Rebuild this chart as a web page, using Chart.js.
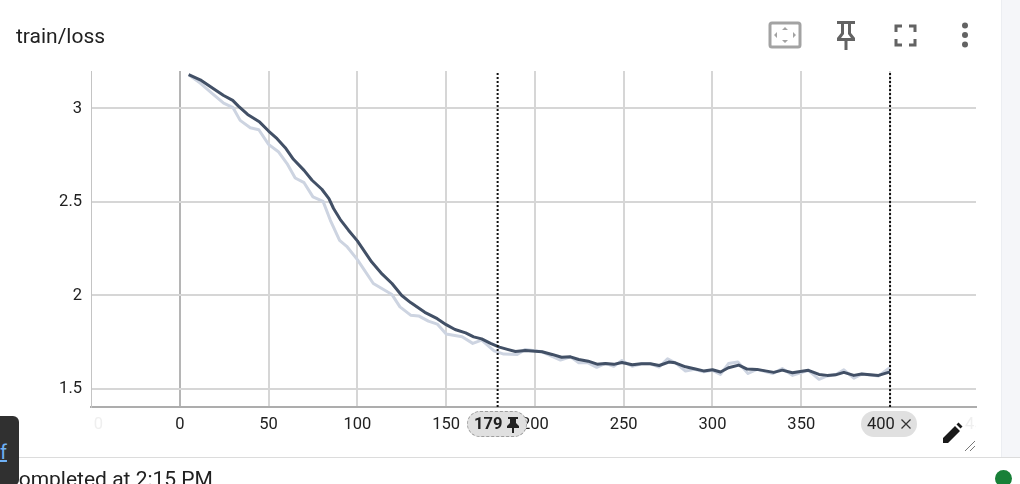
<!DOCTYPE html>
<html>
<head>
<meta charset="utf-8">
<title>train/loss</title>
<script src="https://cdn.jsdelivr.net/npm/chart.js@4"></script>
<style>
  html, body { margin: 0; padding: 0; background: #fff; overflow: hidden; }
  body { width: 1020px; height: 484px; position: relative; font-family: Roboto, sans-serif; color: #212121; }
  #chart { position: absolute; left: 0; top: 0; }
  .gutter { position: absolute; left: 1001px; top: 0; width: 19px; height: 457px; background: #f5f6f9; border-left: 1px solid #eceef2; box-sizing: border-box; }
  .rule { position: absolute; left: 0; top: 457px; width: 1020px; height: 1px; background: #dcdcdc; }
  .title { position: absolute; left: 16px; top: 24px; font-size: 21px; line-height: 24px; }
  .chip { position: absolute; top: 411px; height: 26px; line-height: 26px; background: #e0e0e0; border-radius: 13px; font-size: 16.5px; box-sizing: border-box; white-space: nowrap; }
  #chip179 { left: 467px; width: 60px; border: 1px dashed #9e9e9e; line-height: 24px; font-weight: 700; padding-left: 6px; }
  #chip400 { left: 861px; width: 56px; padding-left: 6px; }
  #chip400 svg { left: 39px; top: 7px; }
  .fade { position: absolute; top: 414px; height: 20px; line-height: 20px; overflow: hidden; font-size: 16.5px; color: #efefef; }
  .status { position: absolute; left: 5px; top: 467px; font-size: 21px; line-height: 24px; white-space: nowrap; }
  .toast { position: absolute; left: -8px; top: 416px; width: 27px; height: 70px; background: #303030; border-radius: 6px; }
  .toast a { position: absolute; left: 8px; top: 24px; color: #6fb1f5; font-size: 20px; text-decoration: underline; }
  .dot { position: absolute; left: 995px; top: 470px; width: 17px; height: 17px; border-radius: 50%; background: #188038; }
  svg { position: absolute; }
</style>
</head>
<body>
<canvas id="chart" width="1020" height="484"></canvas>

<div class="gutter"></div>
<div class="rule"></div>
<div class="title">train/loss</div>

<svg style="left:768px;top:21px" width="34" height="28" viewBox="0 0 34 28">
  <rect x="2" y="2" width="30" height="24" rx="2" fill="none" stroke="#a3a3a3" stroke-width="3"/>
  <path d="M17 6l3 3h-6zM17 22l3-3h-6zM6 14l3-3v6zM28 14l-3-3v6z" fill="#a3a3a3"/>
</svg>
<svg style="left:834px;top:19px" width="24" height="32" viewBox="0 0 24 32">
  <path d="M3 2h18v3h-4v9l4 5v3H3v-3l4-5V5H3z M10 5v10l-3 4h10l-3-4V5z" fill="#636363" fill-rule="evenodd"/>
  <rect x="10.500" y="21" width="3" height="10" fill="#636363"/>
</svg>
<svg style="left:894px;top:24px" width="23" height="23" viewBox="0 0 23 23">
  <path d="M2 8V2h6M15 2h6v6M21 15v6h-6M8 21H2v-6" fill="none" stroke="#636363" stroke-width="3"/>
</svg>
<svg style="left:958px;top:22px" width="14" height="26" viewBox="0 0 14 26">
  <circle cx="7" cy="3.500" r="3" fill="#636363"/><circle cx="7" cy="13" r="3" fill="#636363"/><circle cx="7" cy="22.500" r="3" fill="#636363"/>
</svg>

<div class="fade" style="left:94px;width:9px;"><span style="position:absolute;right:0">-50</span></div>
<div class="fade" style="left:965px;width:11px;">450</div>

<div class="chip" id="chip179">179
  <svg style="left:38px;top:4px" width="14" height="17" viewBox="0 0 14 17"><path d="M2 1h10v2h-2v4l3 3v2H8v5H6v-5H1v-2l3-3V3H2z" fill="#212121"/></svg>
</div>
<div class="chip" id="chip400">400
  <svg width="12" height="12" viewBox="0 0 12 12"><path d="M1.500 1.500l9 9M10.500 1.500l-9 9" stroke="#333" stroke-width="1.300" fill="none"/></svg>
</div>

<svg style="left:942px;top:422px" width="21" height="22" viewBox="0 0 21 22">
  <path d="M1 21v-5L13 4l5 5L6 21zM14.500 2.500l2-2 4 4-2 2z" fill="#1a1a1a"/>
</svg>
<svg style="left:964px;top:440px" width="12" height="12" viewBox="0 0 12 12">
  <path d="M1 11L11 1M6 11l5-5" stroke="#777" stroke-width="1" fill="none"/>
</svg>

<div class="status">Completed at 2:15 PM</div>
<div class="toast"><a>f</a></div>
<div class="dot"></div>

<script>
var rawSteps = [5, 11.5, 18, 24.7, 30, 34, 39.7, 44.5, 50, 55.7, 60.4, 65, 70, 75, 80.7, 84.8, 90, 94, 100,
  109, 119.5, 124, 130, 134.5, 140, 145, 150, 159, 165, 170, 177, 182.4, 190, 194.6, 204, 214.4, 220, 224.7,
  230, 234.8, 239.7, 244.4, 249, 254.8, 260, 265, 270, 274.7, 279.5, 284.8, 290, 295, 300, 304.5, 309, 314.3,
  320, 325, 334, 339.3, 345, 354, 360, 364.6, 369.3, 374, 379.6, 384, 393.5, 400];
var rawLoss = [3.18, 3.135, 3.082, 3.028, 3.004, 2.936, 2.897, 2.886, 2.808, 2.767, 2.705, 2.628, 2.603, 2.527, 2.503, 2.402, 2.295, 2.263, 2.192,
  2.064, 2.005, 1.939, 1.895, 1.891, 1.863, 1.847, 1.794, 1.779, 1.744, 1.761, 1.704, 1.687, 1.685, 1.712, 1.699, 1.655, 1.672, 1.64,
  1.64, 1.616, 1.637, 1.622, 1.652, 1.622, 1.635, 1.635, 1.618, 1.662, 1.637, 1.596, 1.605, 1.592, 1.6, 1.578, 1.636, 1.645,
  1.583, 1.605, 1.583, 1.61, 1.573, 1.6, 1.552, 1.57, 1.576, 1.603, 1.558, 1.58, 1.57, 1.615];

var smoothSteps = [5, 11.5, 19, 24.7, 29.8, 33, 38.2, 45, 50, 54.8, 59.4, 64, 70, 74.5, 80, 84, 86.6, 90.4, 95, 100,
  108, 114, 119.5, 125, 130, 138, 145, 150, 155, 161, 165.5, 170, 175, 180, 184.5, 189, 194.6, 204, 209.7, 215, 220, 224.7,
  230, 235, 239.7, 244.4, 249, 254.8, 260, 265, 270, 275.4, 279, 284.8, 290.4, 295, 300, 304.5, 309, 314.8,
  319.5, 325, 334.5, 339.3, 345, 354, 360, 364.6, 369.3, 374, 379.6, 384, 393.5, 400];
var smoothLoss = [3.18, 3.153, 3.105, 3.069, 3.043, 3.012, 2.968, 2.927, 2.879, 2.838, 2.79, 2.728, 2.669, 2.616, 2.568, 2.518, 2.465, 2.406, 2.349, 2.292,
  2.18, 2.114, 2.064, 2, 1.962, 1.91, 1.876, 1.844, 1.818, 1.8, 1.779, 1.768, 1.744, 1.724, 1.712, 1.701, 1.706, 1.699, 1.685, 1.67, 1.672, 1.658,
  1.649, 1.633, 1.637, 1.632, 1.642, 1.63, 1.635, 1.635, 1.626, 1.644, 1.64, 1.619, 1.607, 1.597, 1.603, 1.591, 1.614, 1.628,
  1.607, 1.605, 1.589, 1.601, 1.587, 1.6, 1.578, 1.573, 1.576, 1.589, 1.573, 1.58, 1.573, 1.592];

var xTicks = [0, 50, 100, 150, 200, 250, 300, 350, 400];
var yTicks = [1.5, 2, 2.5, 3];
var yTickLabels = ['1.5', '2', '2.5', '3'];
var markerSteps = [179, 400];

var yMin = 1.404, yMax = 3.2;

function toPoints(xs, ys) {
  return xs.map(function(x, i) { return { x: x, y: ys[i] }; });
}

var markers = markerSteps.map(function(s) {
  return {
    data: [{ x: s, y: yMin }, { x: s, y: yMax }],
    borderColor: '#111',
    borderWidth: 2,
    borderDash: [2, 2],
    pointRadius: 0,
    order: 0
  };
});

new Chart(document.getElementById('chart'), {
  type: 'line',
  data: {
    datasets: markers.concat([
      { data: toPoints(smoothSteps, smoothLoss), borderColor: '#425066', borderWidth: 3, borderJoinStyle: 'round', pointRadius: 0, tension: 0, order: 1 },
      { data: toPoints(rawSteps, rawLoss), borderColor: '#cdd4e1', borderWidth: 3, borderJoinStyle: 'round', pointRadius: 0, tension: 0, order: 2 }
    ])
  },
  options: {
    responsive: false,
    animation: false,
    devicePixelRatio: 1,
    layout: { padding: { top: 71, right: 44 } },
    plugins: { legend: { display: false }, tooltip: { enabled: false } },
    scales: {
      x: {
        type: 'linear',
        min: -50,
        max: 448.4,
        afterBuildTicks: function(axis) { axis.ticks = xTicks.map(function(v) { return { value: v }; }); },
        afterFit: function(axis) { axis.height = 77; },
        grid: {
          drawTicks: false,
          lineWidth: 2,
          color: function(ctx) { return ctx.tick && ctx.tick.value === 0 ? '#b5b5b5' : '#d6d6d6'; }
        },
        border: { color: '#adadad', width: 2 },
        ticks: { color: '#212121', font: { family: 'Roboto', size: 16.5 }, padding: 8, maxRotation: 0, autoSkip: false }
      },
      y: {
        min: yMin,
        max: yMax,
        afterBuildTicks: function(axis) { axis.ticks = yTicks.map(function(v) { return { value: v }; }); },
        afterFit: function(axis) { axis.width = 91; },
        grid: { drawTicks: false, lineWidth: 2, color: '#d6d6d6' },
        border: { color: '#c4c4c4', width: 1 },
        ticks: {
          color: '#212121',
          font: { family: 'Roboto', size: 16.5 },
          padding: 9,
          autoSkip: false,
          callback: function(v) { return yTickLabels[yTicks.indexOf(v)]; }
        }
      }
    }
  }
});
</script>
</body>
</html>
